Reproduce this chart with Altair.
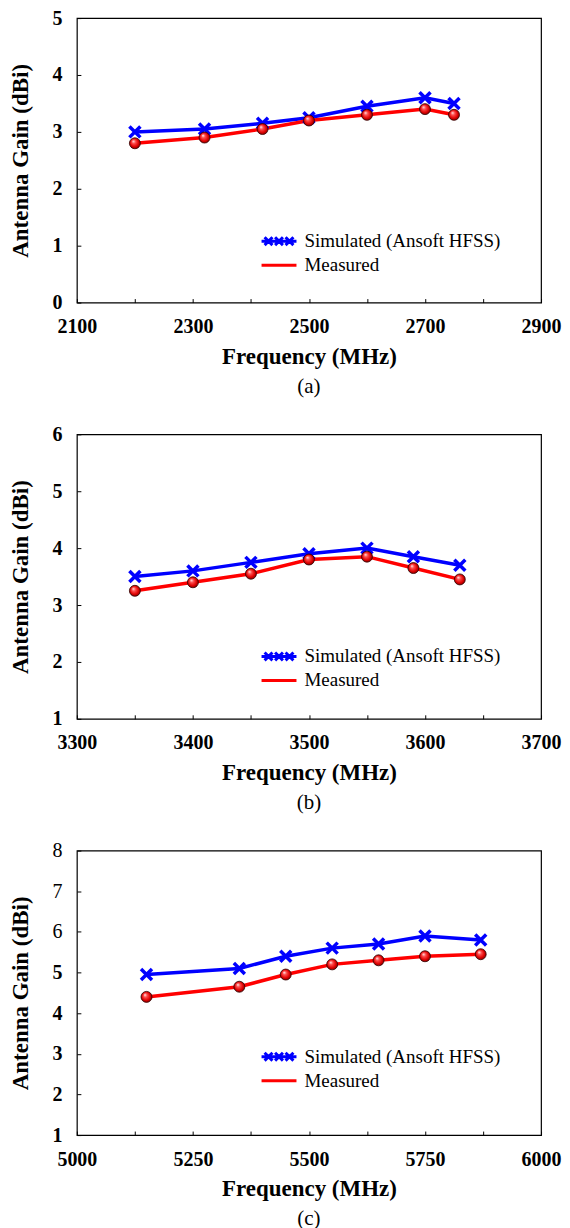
import altair as alt
import pandas as pd

SIM = "Simulated (Ansoft HFSS)"
MEAS = "Measured"

# ---- panel (a) ----
freq_a = [2200, 2320, 2420, 2500, 2600, 2700, 2750]
sim_a = [3.0, 3.05, 3.15, 3.25, 3.45, 3.6, 3.5]
meas_a = [2.8, 2.9, 3.05, 3.2, 3.3, 3.4, 3.3]
xticks_a = [2100, 2200, 2300, 2400, 2500, 2600, 2700, 2800, 2900]
xlabels_a = [2100, 2300, 2500, 2700, 2900]
yticks_a = [0, 0.5, 1, 1.5, 2, 2.5, 3, 3.5, 4, 4.5, 5]

# ---- panel (b) ----
freq_b = [3350, 3400, 3450, 3500, 3550, 3590, 3630]
sim_b = [3.5, 3.6, 3.75, 3.9, 4.0, 3.85, 3.7]
meas_b = [3.25, 3.4, 3.55, 3.8, 3.85, 3.65, 3.45]
xticks_b = [3300, 3350, 3400, 3450, 3500, 3550, 3600, 3650, 3700]
xlabels_b = [3300, 3400, 3500, 3600, 3700]
yticks_b = [1, 1.5, 2, 2.5, 3, 3.5, 4, 4.5, 5, 5.5, 6]

# ---- panel (c) ----
freq_c = [5150, 5350, 5450, 5550, 5650, 5750, 5870]
sim_c = [4.95, 5.1, 5.4, 5.6, 5.7, 5.9, 5.8]
meas_c = [4.4, 4.65, 4.95, 5.2, 5.3, 5.4, 5.45]
xticks_c = [5000, 5125, 5250, 5375, 5500, 5625, 5750, 5875, 6000]
xlabels_c = [5000, 5250, 5500, 5750, 6000]
yticks_c = [1, 1.5, 2, 2.5, 3, 3.5, 4, 4.5, 5, 5.5, 6, 6.5, 7, 7.5, 8]

FONT = "'Liberation Serif', 'Times New Roman', Times, 'DejaVu Serif', serif"
BLUE = "#0000ff"
RED = "#ff0000"
XPATH = "M-1,-1L1,1M-1,1L1,-1"
LEG_SIM = ("M-2,0H2"
           "M-1.65,-0.45L-0.75,0.45M-1.65,0.45L-0.75,-0.45"
           "M-0.45,-0.45L0.45,0.45M-0.45,0.45L0.45,-0.45"
           "M0.75,-0.45L1.65,0.45M0.75,0.45L1.65,-0.45")
LEG_MEAS = "M-2,0H2"

sphere = alt.RadialGradient(
    gradient="radial",
    stops=[
        alt.GradientStop(offset=0, color="#ffffff"),
        alt.GradientStop(offset=0.3, color="#ff5050"),
        alt.GradientStop(offset=0.7, color="#e00000"),
        alt.GradientStop(offset=1, color="#700000"),
    ],
    x1=0.35, y1=0.3, r1=0, x2=0.5, y2=0.5, r2=0.55,
)


def panel(freqs, sim, meas, xdom, xticks, xlabels, ydom, yticks, caption, legend_y, bold_cut=None):
    df = pd.DataFrame({
        "freq": freqs + freqs,
        "gain": sim + meas,
        "series": [SIM] * len(freqs) + [MEAS] * len(freqs),
    })
    lab_list = ",".join(str(v) for v in xlabels)
    xaxis = alt.Axis(
        values=xticks, format="d",
        labelExpr=f"indexof([{lab_list}], datum.value) >= 0 ? datum.label : ''",
        title="Frequency (MHz)", titlePadding=9, labelPadding=14,
        labelFlush=False, labelOverlap=False,
    )
    yargs = dict(
        values=yticks, format="d",
        labelExpr="datum.value % 1 == 0 ? datum.label : ''",
        title="Antenna Gain (dBi)", titlePadding=19, labelPadding=15,
        labelOverlap=False, labelFlush=False,
    )
    if bold_cut is not None:
        yargs["labelFontWeight"] = {"condition": {"test": f"datum.value >= {bold_cut}", "value": "normal"},
                                    "value": "bold"}
    yaxis = alt.Axis(**yargs)
    x = alt.X("freq:Q", scale=alt.Scale(domain=xdom, nice=False, zero=False), axis=xaxis)
    y = alt.Y("gain:Q", scale=alt.Scale(domain=ydom, nice=False, zero=False), axis=yaxis)

    base = alt.Chart(df)
    lines = base.mark_line(strokeWidth=3.5).encode(
        x=x, y=y,
        color=alt.Color(
            "series:N",
            scale=alt.Scale(domain=[SIM, MEAS], range=[BLUE, RED]),
            legend=alt.Legend(
                orient="none", legendX=192, legendY=legend_y, title=None,
                symbolType=alt.ExprRef(expr=f"datum.value == '{SIM}' ? '{LEG_SIM}' : '{LEG_MEAS}'"),
                symbolSize=306, symbolStrokeWidth=3, symbolOpacity=1,
                symbolFillColor="transparent",
                labelFont=FONT, labelFontSize=19, labelFontWeight="normal",
                labelColor="black", labelOffset=15, labelLimit=400, rowPadding=3, padding=0,
            ),
        ),
        order="freq:Q",
    )
    xs = base.transform_filter(alt.datum.series == SIM).mark_point(
        shape=XPATH, filled=False, size=121, strokeWidth=3.5, color=BLUE, opacity=1
    ).encode(x=x, y=y)
    balls = base.transform_filter(alt.datum.series == MEAS).mark_point(
        shape="circle", filled=True, size=121, fill=sphere, stroke="#300000",
        strokeWidth=0.8, opacity=1, fillOpacity=1
    ).encode(x=x, y=y)
    return alt.layer(lines, xs, balls).properties(
        width=465, height=285,
        title=alt.TitleParams(text=caption, orient="bottom", frame="group", anchor="middle",
                              font=FONT, fontSize=21, fontWeight="normal", color="black", offset=7.5),
    )


pa = panel(freq_a, sim_a, meas_a, [2100, 2900], xticks_a, xlabels_a, [0, 5], yticks_a, "(a)", 213)
pb = panel(freq_b, sim_b, meas_b, [3300, 3700], xticks_b, xlabels_b, [1, 6], yticks_b, "(b)", 212)
pc = panel(freq_c, sim_c, meas_c, [5000, 6000], xticks_c, xlabels_c, [1, 8], yticks_c, "(c)", 196, bold_cut=6)

chart = alt.vconcat(pa, pb, pc, spacing=25).resolve_scale(
    color="independent"
).resolve_legend(color="independent").properties(
    padding={"left": 1, "top": -2, "right": 0, "bottom": 0}
).configure_view(
    stroke="black", strokeWidth=1.2
).configure_axis(
    labelFont=FONT, labelFontSize=20, labelFontWeight="bold", labelColor="black",
    titleFont=FONT, titleFontSize=23, titleFontWeight="bold", titleColor="black",
    tickColor="black", tickWidth=1, tickSize=4, offset=-4, domain=False, grid=False,
)

chart.save("out.html", embed_options={"renderer": "svg", "actions": False})
